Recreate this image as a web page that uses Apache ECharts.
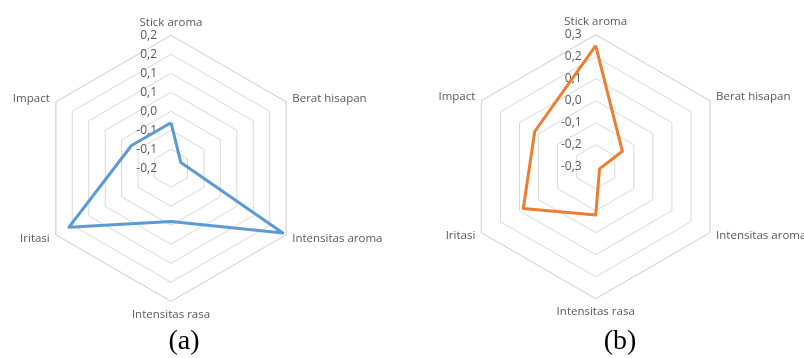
<!DOCTYPE html>
<html>
<head>
<meta charset="utf-8">
<script src="https://cdn.jsdelivr.net/npm/echarts@6/dist/echarts.min.js"></script>
<style>
  html, body { margin: 0; padding: 0; background: #ffffff; }
  #chart { width: 804px; height: 358px; }
</style>
</head>
<body>
<div id="chart"></div>
<script>
// Attribute order, clockwise from the top
const categories = ['Stick aroma', 'Berat hisapan', 'Intensitas aroma', 'Intensitas rasa', 'Iritasi', 'Impact'];
const valuesA = [-0.03, -0.12, 0.19, -0.01, 0.16, -0.03];
const valuesB = [0.25, -0.16, -0.28, -0.08, 0.08, 0.02];
const rangeA = [-0.15, 0.2];
const rangeB = [-0.3, 0.3];
const ticksA = ['-0,2', '-0,1', '-0,1', '0,0', '0,1', '0,1', '0,2', '0,2'];
const ticksB = ['-0,3', '-0,2', '-0,1', '0,0', '0,1', '0,2', '0,3'];
const captions = ['(a)', '(b)'];

const textGrey = '#595959';
const gridGrey = '#d9d9d9';
const uiFont = 'Open Sans';

// ECharts lays indicators out counter-clockwise; reorder for a clockwise layout
const order = [0, 5, 4, 3, 2, 1];
const ordered = (arr) => order.map(i => arr[i]);

function makeRadar(center, radius, range, ticks) {
  const splitNumber = ticks.length - 1;
  const step = (range[1] - range[0]) / splitNumber;
  return {
    center: center,
    radius: radius,
    shape: 'polygon',
    startAngle: 90,
    splitNumber: splitNumber,
    nameGap: 7,
    axisName: { color: textGrey, fontSize: 11.5, fontFamily: uiFont },
    axisLine: { show: false },
    axisTick: { show: false },
    splitArea: { show: false },
    splitLine: { lineStyle: { color: gridGrey, width: 1 } },
    axisLabel: {
      show: false,
      color: textGrey,
      fontSize: 12,
      fontFamily: uiFont,
      margin: 14,
      formatter: (v) => ticks[Math.round((v - range[0]) / step)]
    },
    indicator: order.map(i => ({
      name: categories[i],
      min: range[0],
      max: range[1],
      axisLabel: { show: i === 0 }
    }))
  };
}

function makeSeries(radarIndex, values, color) {
  return {
    type: 'radar',
    radarIndex: radarIndex,
    symbol: 'none',
    silent: true,
    lineStyle: { color: color, width: 3, join: 'round' },
    data: [{ value: ordered(values) }]
  };
}

const chart = echarts.init(document.getElementById('chart'), null, { renderer: 'canvas' });
chart.setOption({
  animation: false,
  backgroundColor: '#ffffff',
  radar: [
    makeRadar([171, 168.3], 133, rangeA, ticksA),
    makeRadar([595.7, 166.7], 132, rangeB, ticksB)
  ],
  series: [
    makeSeries(0, valuesA, '#5b9bd5'),
    makeSeries(1, valuesB, '#ed7d31')
  ],
  graphic: [
    { type: 'text', x: 184, y: 342, style: { text: captions[0], font: '28px "Liberation Serif"', fill: '#000', align: 'center', verticalAlign: 'middle' } },
    { type: 'text', x: 620, y: 342, style: { text: captions[1], font: '28px "Liberation Serif"', fill: '#000', align: 'center', verticalAlign: 'middle' } }
  ]
});
</script>
</body>
</html>
